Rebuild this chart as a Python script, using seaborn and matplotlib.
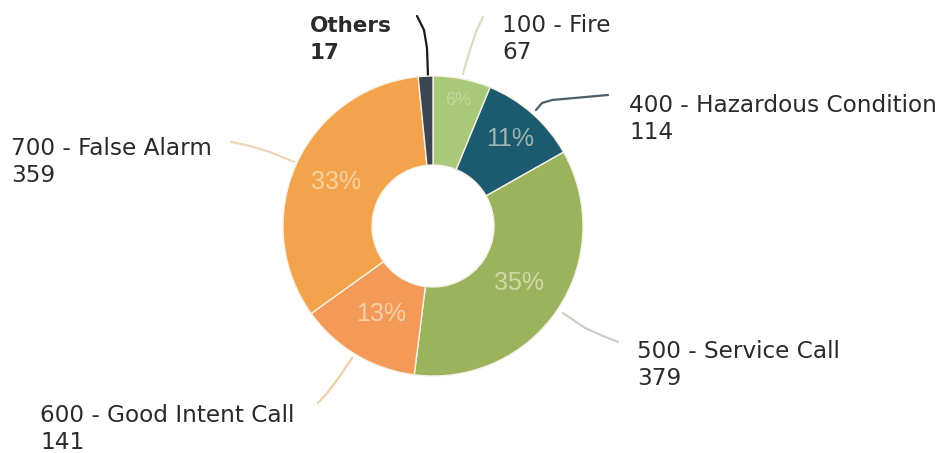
import matplotlib
matplotlib.use("Agg")
import matplotlib.pyplot as plt
import numpy as np
import seaborn as sns

# Incident counts by category
categories = ["100 - Fire", "400 - Hazardous Condition", "500 - Service Call",
              "600 - Good Intent Call", "700 - False Alarm", "Others"]
counts = [67, 114, 379, 141, 359, 17]
colors = ["#a8c97a", "#1c5a70", "#9cb35e", "#f49a58", "#f3a34c", "#3d4552"]
leader_colors = ["#d6dfc4", "#4a5e68", "#c9cfc4", "#f1cfa4", "#efd6b8", "#1a1a1a"]

sns.set_theme(style="white")
plt.rcParams["font.family"] = ["DejaVu Sans"]

W, H = 946, 453
fig = plt.figure(figsize=(W / 100, H / 100), dpi=100)
ax = fig.add_axes([0, 0, 1, 1])

cx, cy, R, r_in = 433, 226, 150, 61


def py(y):
    # pixel-from-top to data y
    return H - y


def pct_label(p):
    return f"{p:.0f}%" if p >= 3 else ""


wedges, texts, autotexts = ax.pie(
    counts, colors=colors, startangle=90, counterclock=False,
    center=(cx, py(cy)), radius=R,
    autopct=pct_label, pctdistance=0.7,
    wedgeprops=dict(width=R - r_in, edgecolor="#f4f1e4", linewidth=1.0),
    textprops=dict(color="#f4f2dc", alpha=0.6, fontsize=18,
                   family=["Liberation Sans", "DejaVu Sans"]),
)

# Percentage labels: small slices sit further out along the ring
pct_radius = [128, 116, 103, 102, 106, 0]
for w, t, rr in zip(wedges, autotexts, pct_radius):
    ang = np.deg2rad((w.theta1 + w.theta2) / 2)
    t.set_position((cx + rr * np.cos(ang), py(cy) + rr * np.sin(ang)))
    t.set_va("center")
    t.set_ha("center")
autotexts[0].set_fontsize(13)
autotexts[0].set_alpha(0.35)

ax.set_xlim(0, W)
ax.set_ylim(0, H)
ax.set_aspect("equal")
ax.axis("off")

# Leader lines (pixel coordinates, top-left origin)
leaders = {
    "100 - Fire": [(463, 74), (470, 50), (476, 32), (483, 17)],
    "400 - Hazardous Condition": [(536, 110), (542, 103), (552, 100), (608, 95)],
    "500 - Service Call": [(563, 313), (585, 328), (603, 336), (618, 342)],
    "600 - Good Intent Call": [(352, 358), (340, 376), (328, 392), (318, 403)],
    "700 - False Alarm": [(294, 162), (270, 152), (250, 146), (231, 142)],
    "Others": [(428, 76), (427, 48), (424, 30), (417, 16)],
}
for cat, lc in zip(categories, leader_colors):
    pts = np.array(leaders[cat], dtype=float)
    ax.plot(pts[:, 0], H - pts[:, 1], color=lc, lw=1.6, solid_capstyle="round", zorder=0)

# Category labels: name on the first line, count below
label_pos = {
    "100 - Fire": (502, 32),
    "400 - Hazardous Condition": (629, 112),
    "500 - Service Call": (637, 358),
    "600 - Good Intent Call": (40, 422),
    "700 - False Alarm": (11, 155),
    "Others": (310, 32),
}
for cat, n in zip(categories, counts):
    x, yb = label_pos[cat]
    bold = cat == "Others"
    fs = 15.5 if bold else 16.7
    weight = "bold" if bold else "normal"
    ax.text(x, py(yb), cat, fontsize=fs, color="#2b2b2b", va="baseline",
            ha="left", fontweight=weight)
    ax.text(x, py(yb + 27), str(n), fontsize=fs, color="#2b2b2b",
            va="baseline", ha="left", fontweight=weight)

fig.savefig("out.png", dpi=100, facecolor="white")
